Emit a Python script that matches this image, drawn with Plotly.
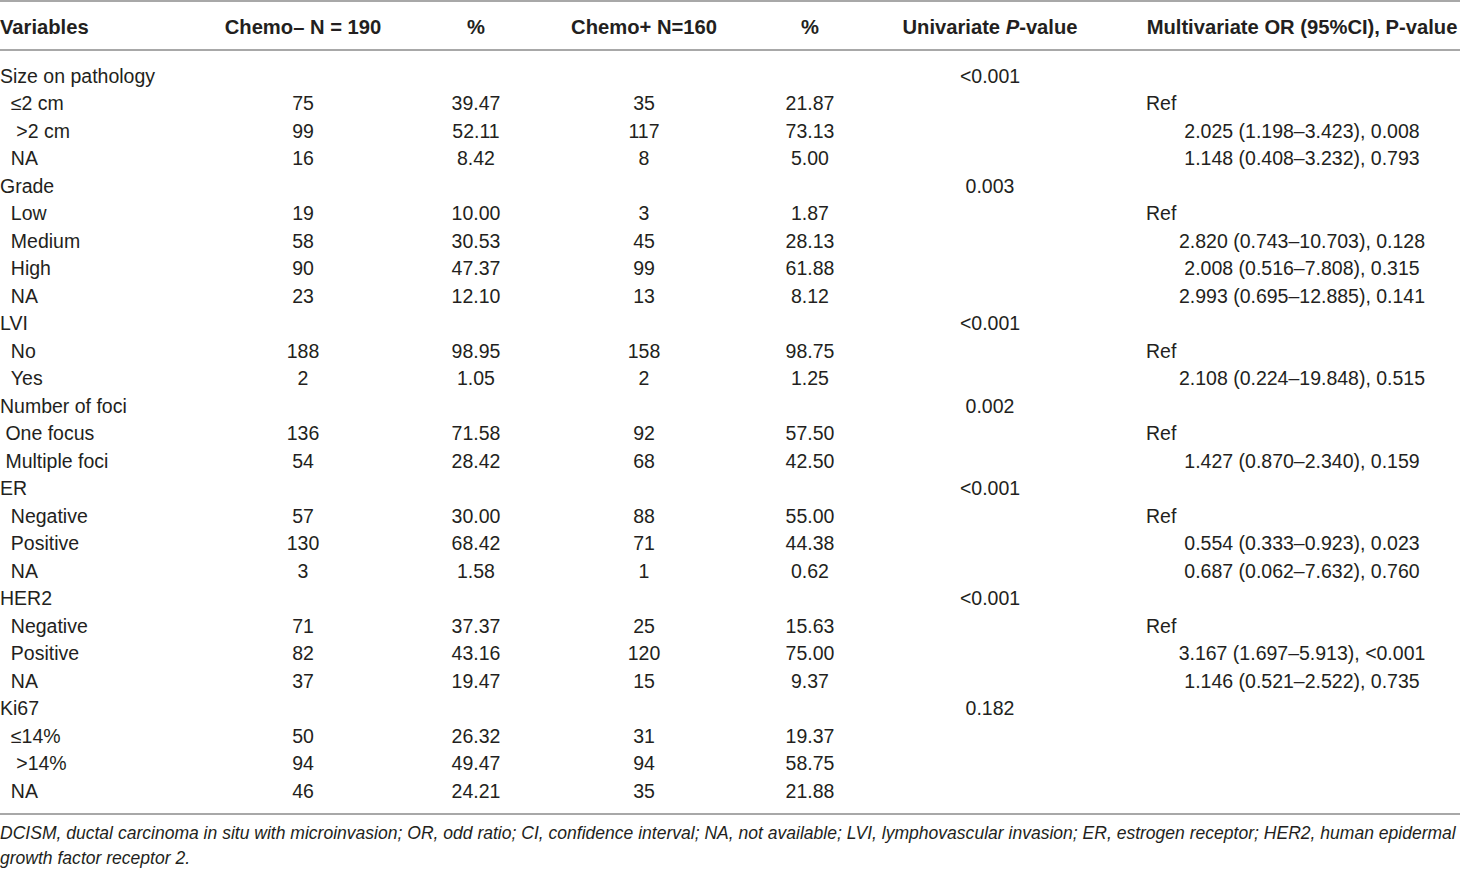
import plotly.graph_objects as go

# ---- table content ----
headers = ["<b>Variables</b>", "<b>Chemo– N = 190</b>", "<b>%</b>", "<b>Chemo+ N=160</b>", "<b>%</b>",
           "<b>Univariate <i>P</i>-value</b>", "<b>Multivariate OR (95%CI), P-value</b>"]

variables = ["Size on pathology", "≤2 cm", ">2 cm", "NA",
             "Grade", "Low", "Medium", "High", "NA",
             "LVI", "No", "Yes",
             "Number of foci", "One focus", "Multiple foci",
             "ER", "Negative", "Positive", "NA",
             "HER2", "Negative", "Positive", "NA",
             "Ki67", "≤14%", ">14%", "NA"]
indent = [0, 2, 3, 2,
          0, 2, 2, 2, 2,
          0, 2, 2,
          0, 1, 1,
          0, 2, 2, 2,
          0, 2, 2, 2,
          0, 2, 3, 2]

chemo_neg_n = ["", "75", "99", "16", "", "19", "58", "90", "23", "", "188", "2", "", "136", "54",
               "", "57", "130", "3", "", "71", "82", "37", "", "50", "94", "46"]
chemo_neg_pct = ["", "39.47", "52.11", "8.42", "", "10.00", "30.53", "47.37", "12.10", "", "98.95", "1.05",
                 "", "71.58", "28.42", "", "30.00", "68.42", "1.58", "", "37.37", "43.16", "19.47",
                 "", "26.32", "49.47", "24.21"]
chemo_pos_n = ["", "35", "117", "8", "", "3", "45", "99", "13", "", "158", "2", "", "92", "68",
               "", "88", "71", "1", "", "25", "120", "15", "", "31", "94", "35"]
chemo_pos_pct = ["", "21.87", "73.13", "5.00", "", "1.87", "28.13", "61.88", "8.12", "", "98.75", "1.25",
                 "", "57.50", "42.50", "", "55.00", "44.38", "0.62", "", "15.63", "75.00", "9.37",
                 "", "19.37", "58.75", "21.88"]
univariate_p = ["<0.001", "", "", "", "0.003", "", "", "", "", "<0.001", "", "", "0.002", "", "",
                "<0.001", "", "", "", "<0.001", "", "", "", "0.182", "", "", ""]
multivariate = ["", "Ref", "2.025 (1.198–3.423), 0.008", "1.148 (0.408–3.232), 0.793",
                "", "Ref", "2.820 (0.743–10.703), 0.128", "2.008 (0.516–7.808), 0.315",
                "2.993 (0.695–12.885), 0.141",
                "", "Ref", "2.108 (0.224–19.848), 0.515",
                "", "Ref", "1.427 (0.870–2.340), 0.159",
                "", "Ref", "0.554 (0.333–0.923), 0.023", "0.687 (0.062–7.632), 0.760",
                "", "Ref", "3.167 (1.697–5.913), <0.001", "1.146 (0.521–2.522), 0.735",
                "", "", "", ""]

footnote = ["DCISM, ductal carcinoma in situ with microinvasion; OR, odd ratio; CI, confidence interval; "
            "NA, not available; LVI, lymphovascular invasion; ER, estrogen receptor; HER2, human epidermal",
            "growth factor receptor 2."]

# ---- layout (pixel coords) ----
W, H = 1460, 871
col_x = [0, 303, 476, 644, 810, 990, 1302]
ref_x = 1146
header_y = 29
row_y0, row_dy = 78, 27.5
foot_y = [835, 860]
FONT = "Liberation Sans, Arial, sans-serif"
TXT = "#231f20"
FS = 19.5
FS_HEAD = 20.2
FS_FOOT = 17.55


def esc(s):
    return s.replace("<", "&lt;").replace(">", "&gt;")


rows = [row_y0 + i * row_dy for i in range(len(variables))]

fig = go.Figure()


def add_col(x, y, text, pos, size=FS, color=TXT):
    fig.add_trace(go.Scatter(
        x=[x] * len(y), y=y, text=text, mode="text", textposition=pos,
        textfont=dict(family=FONT, size=size, color=color),
        hoverinfo="skip", showlegend=False, cliponaxis=False))


# header
add_col(col_x[0], [header_y], [headers[0]], "middle right", size=FS_HEAD)
for x, h in zip(col_x[1:], headers[1:]):
    add_col(x, [header_y], [h], "middle center", size=FS_HEAD)

# first column
labels = ["\u00a0" * n + esc(v) for v, n in zip(variables, indent)]
add_col(col_x[0], rows, labels, "middle right")

for x, vals in zip(col_x[1:6], [chemo_neg_n, chemo_neg_pct, chemo_pos_n, chemo_pos_pct, univariate_p]):
    add_col(x, rows, [esc(v) for v in vals], "middle center")

# multivariate: 'Ref' flush left, estimates centred
add_col(ref_x, rows, [v if v == "Ref" else "" for v in multivariate], "middle right")
add_col(col_x[6], rows, [esc(v) if v != "Ref" else "" for v in multivariate], "middle center")

# footnote
add_col(0, foot_y, ["<i>" + f + "</i>" for f in footnote], "middle right", size=FS_FOOT)

# rules
for yy in [1, 50, 814]:
    fig.add_shape(type="line", x0=0, x1=W, y0=yy, y1=yy, xref="x", yref="y",
                  line=dict(color="#a8a8a8", width=2))

fig.update_layout(
    width=W, height=H, margin=dict(l=0, r=0, t=0, b=0),
    paper_bgcolor="white", plot_bgcolor="white", hovermode=False,
    xaxis=dict(range=[0, W], visible=False, fixedrange=True),
    yaxis=dict(range=[H, 0], visible=False, fixedrange=True),
)

fig.write_html("out.html", config={"displayModeBar": False},
               post_script="document.body.style.margin='0';")
